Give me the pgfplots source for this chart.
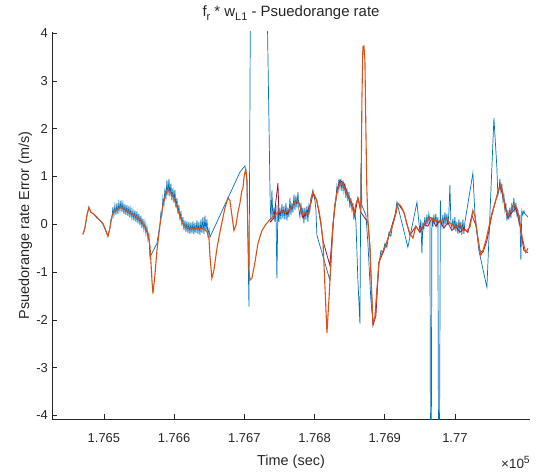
\documentclass[border=0pt]{standalone}
\usepackage{fontspec}
\setmainfont{Liberation Sans}
\usepackage{pgfplots}
\pgfplotsset{compat=1.18}
\definecolor{mblue}{rgb}{0,0.447,0.741}
\definecolor{morange}{rgb}{0.85,0.325,0.098}
\definecolor{mred}{rgb}{0.635,0.078,0.184}
\definecolor{axgray}{rgb}{0.15,0.15,0.15}
\begin{document}
\begin{tikzpicture}
\useasboundingbox (-52bp,-53.7bp) rectangle (487bp,419.3bp);
\begin{axis}[
 at={(0,0)}, anchor=south west,
 scale only axis, width=478bp, height=387.6bp,
 xmin=176426, xmax=177107, ymin=-4.08, ymax=4.03,
 axis x line*=bottom, axis y line*=left,
 axis line style={-, draw=axgray, line width=0.6bp},
 tick align=inside, major tick length=5bp,
 tick style={draw=axgray, line width=0.6bp},
 xtick pos=bottom, ytick pos=left,
 scaled x ticks=false,
 xtick={176500,176600,176700,176800,176900,177000},
 xticklabels={1.765,1.766,1.767,1.768,1.769,1.77},
 ytick={-4,-3,-2,-1,0,1,2,3,4},
 yticklabels={-4,-3,-2,-1,0,1,2,3,4},
 xticklabel style={font=\fontsize{13}{13}\selectfont, text=axgray, anchor=base, yshift=-23bp, inner sep=0pt},
 yticklabel style={font=\fontsize{13}{13}\selectfont, text=axgray, anchor=east, xshift=-4bp, inner sep=0pt},
 xlabel={Time (sec)},
 ylabel={Psuedorange rate Error (m/s)},
 xlabel style={font=\fontsize{14.5}{14.5}\selectfont, text=axgray, at={(axis description cs:0.5,-0.118)}, anchor=base, inner sep=0pt},
 ylabel style={font=\fontsize{14.5}{14.5}\selectfont, text=axgray, at={(axis description cs:-0.048,0.5)}, anchor=base, inner sep=0pt},
 title={f\raisebox{-0.45ex}{\fontsize{11}{11}\selectfont r} * w\raisebox{-0.45ex}{\fontsize{11}{11}\selectfont L1} - Psuedorange rate},
 title style={font=\fontsize{15}{15}\selectfont, text=black!85, at={(axis description cs:0.5,1.023)}, anchor=base, inner sep=0pt},
 clip=true,
]
% blue series
\addplot[mblue, line width=0.7bp] coordinates {
(176470.1,-0.21) (176472.9,-0.08) (176475.8,0.19) (176478.6,0.34) (176481.5,0.25)
(176485.8,0.21) (176490.0,0.13) (176494.3,0.08) (176498.6,0.00) (176502.8,-0.15)
(176505.7,-0.25) (176508.5,-0.08)
(176509.9,0.10) (176511.4,0.12) (176512.8,0.36) (176514.2,0.18) (176515.6,0.40)
(176517.1,0.20) (176518.5,0.44) (176519.9,0.22) (176521.3,0.46) (176522.8,0.28)
(176524.2,0.50) (176525.6,0.26) (176527.0,0.45) (176528.5,0.22) (176529.9,0.42)
(176531.3,0.20) (176532.7,0.40) (176534.2,0.17) (176535.6,0.38) (176537.0,0.14)
(176538.4,0.34) (176539.9,0.12) (176541.3,0.30) (176542.7,0.08) (176544.1,0.29)
(176545.6,0.05) (176547.0,0.27) (176548.4,0.02) (176549.8,0.22) (176551.3,-0.02)
(176552.7,0.18) (176554.1,-0.08) (176555.5,0.12) (176557.0,-0.12) (176558.4,0.05)
(176559.8,-0.20) (176561.2,-0.05) (176562.7,-0.32) (176564.1,-0.20) (176565.5,-0.69)
(176575.5,-0.40)
(176579.8,0.00) (176581.2,0.25) (176582.6,0.20) (176584.0,0.55) (176585.5,0.40)
(176586.9,0.75) (176588.3,0.52) (176589.7,0.92) (176591.2,0.60) (176592.6,0.95)
(176594.0,0.58) (176595.4,0.85) (176596.8,0.50) (176598.3,0.75) (176599.7,0.45)
(176601.1,0.72) (176602.5,0.35) (176604.0,0.55) (176605.4,0.22) (176606.8,0.40)
(176608.3,0.08) (176609.7,0.28) (176611.1,-0.03) (176612.5,0.15) (176614.0,-0.12)
(176615.4,0.08) (176616.8,-0.16) (176618.2,0.06) (176619.7,-0.18) (176621.1,0.05)
(176622.5,-0.20) (176623.9,0.04) (176625.4,-0.19) (176626.8,0.06) (176628.2,-0.21)
(176629.6,0.03) (176631.1,-0.18) (176632.5,0.08) (176633.9,-0.20) (176635.3,0.05)
(176636.8,-0.22) (176638.2,0.10) (176639.6,-0.18) (176641.0,0.15) (176642.5,-0.20)
(176643.9,0.18) (176645.3,-0.15) (176646.7,0.10) (176648.1,-0.22) (176649.6,-0.10)
(176651.0,-0.27)
(176693.7,1.09) (176698.0,1.17) (176700.9,1.22) (176703.7,0.92)
(176706.6,-1.72) (176710.1,9.0) (176727.9,9.0)
(176736.8,0.50) (176737.9,0.05) (176739.3,0.71) (176740.7,0.10) (176742.2,0.35)
(176743.6,0.05) (176745.0,0.40) (176746.4,-1.13) (176747.9,0.40) (176749.3,0.05)
(176750.7,0.35) (176752.1,0.10) (176753.6,0.42) (176755.0,0.12) (176756.4,0.38)
(176757.8,0.10) (176759.3,0.45) (176760.7,0.08) (176762.1,0.35) (176763.5,0.15)
(176765.0,0.55) (176766.4,0.20) (176767.8,0.45) (176769.2,0.25) (176770.7,0.62)
(176772.1,0.30) (176773.5,0.60) (176774.9,0.35) (176776.4,0.68) (176777.8,0.30)
(176779.2,0.15) (176780.6,0.45) (176782.1,0.20) (176783.5,0.35) (176784.9,0.02)
(176786.3,0.35) (176787.7,0.10) (176789.2,0.38) (176790.6,0.05) (176792.0,0.40)
(176793.4,0.30) (176794.9,0.55) (176796.3,0.62) (176797.7,0.72) (176799.1,0.60)
(176800.6,0.50) (176802.0,0.30) (176803.4,-0.23)
(176821.9,-1.17) (176824.8,-0.44)
(176827.6,0.19) (176829.1,0.45) (176830.5,0.50) (176831.9,0.80) (176833.3,0.65)
(176834.8,0.95) (176836.2,0.75) (176837.6,0.95) (176839.0,0.70) (176840.5,0.92)
(176841.9,0.68) (176843.3,0.85) (176844.7,0.55) (176846.1,0.75) (176847.6,0.48)
(176849.0,0.68) (176850.4,0.35) (176851.8,0.55) (176853.3,0.30) (176854.7,0.45)
(176856.1,0.10) (176857.5,0.25) (176859.0,0.04)
(176861.8,-1.17) (176864.7,-2.08) (176866.1,1.28)
(176867.5,0.40) (176873.2,0.19) (176876.1,-0.40) (176880.3,-1.59) (176883.2,-2.05)
(176886.0,-1.97) (176888.9,-1.38) (176891.7,-0.84) (176894.6,-0.55) (176897.4,-0.59)
(176900.3,-0.40) (176903.1,-0.48) (176906.0,-0.17) (176908.8,-0.25) (176911.7,0.04)
(176914.5,0.17) (176917.4,0.46) (176933.0,-0.48) (176945.9,0.46)
(176950.1,-0.17) (176951.5,0.10) (176953.0,-0.61) (176954.4,0.05) (176955.8,-0.10)
(176957.2,0.15) (176958.7,-0.05) (176960.1,0.20) (176961.5,0.00) (176962.9,0.22)
(176964.4,0.05) (176965.8,-8.0) (176967.2,0.15) (176968.6,-0.05) (176970.1,0.20)
(176971.5,0.00) (176972.9,0.22) (176974.3,-0.02) (176975.8,0.15) (176977.2,-8.0)
(176979.3,0.50) (176980.1,0.10) (176981.5,-0.05) (176982.9,0.20) (176984.3,-0.05)
(176985.8,0.25) (176987.2,0.00) (176988.6,0.22) (176990.0,-0.02) (176991.5,0.25)
(176992.9,0.82) (176994.3,0.05) (176995.7,-0.08) (176997.2,0.12) (176998.6,-0.12)
(177000.0,0.15) (177001.4,-0.15) (177002.8,0.05) (177004.3,-0.20) (177005.7,0.10)
(177007.1,-0.15) (177008.5,0.05) (177009.9,-0.22) (177011.4,0.10) (177012.8,-0.20)
(177014.2,0.04)
(177025.6,1.07) (177028.5,0.23) (177031.3,-0.17) (177034.2,-0.55) (177045.6,-1.32)
(177055.6,2.22) (177059.8,1.19)
(177061.2,0.60) (177062.7,0.71) (177064.1,0.95) (177065.5,0.70) (177066.9,0.85)
(177068.4,0.50) (177069.8,0.62) (177071.2,0.30) (177072.6,0.45) (177074.1,0.08)
(177075.5,0.30) (177076.9,0.10) (177078.3,0.35) (177079.8,0.13) (177081.2,0.45)
(177082.6,0.25) (177084.0,0.55) (177085.5,0.25) (177086.9,0.45) (177088.3,0.20)
(177089.7,0.30) (177091.2,0.05) (177092.6,0.20) (177094.0,-0.75) (177095.4,0.29)
(177096.8,0.20) (177098.3,0.28) (177099.7,0.22) (177101.1,0.20) (177102.5,0.18)
(177104.0,0.15)
};
% dark red series
\addplot[mred, line width=0.8bp] coordinates {
(176736.5,0.04) (176742.2,0.13) (176747.9,0.86) (176749.3,0.21) (176755.0,0.29)
(176760.7,0.21) (176766.4,0.34) (176772.1,0.46) (176777.8,0.46) (176783.5,0.13)
(176789.2,0.25) (176794.9,0.44) (176797.7,0.63) (176803.4,0.50) (176809.1,0.00)
(176812.0,-0.34) (176821.9,-0.86) (176826.2,-0.02) (176831.9,0.71) (176836.2,0.92)
(176841.9,0.86) (176847.6,0.61) (176853.3,0.44) (176857.5,0.21) (176861.8,0.55)
(176866.1,0.25) (176876.1,0.04) (176878.9,-0.44) (176883.2,-2.12) (176887.5,-1.91)
(176891.7,-0.80) (176898.9,-0.55) (176907.4,-0.17) (176916.0,0.25) (176918.8,0.44)
(176927.4,0.25) (176935.9,-0.23) (176944.4,-0.04) (176950.1,-0.17) (176955.8,0.00)
(176961.5,-0.04) (176967.2,0.13) (176972.9,-0.04) (176978.6,0.08) (176984.3,-0.08)
(176990.0,0.04) (176995.7,-0.13) (177001.4,-0.04) (177007.1,-0.17) (177012.8,-0.08)
(177018.5,-0.17) (177024.2,0.19) (177029.9,-0.02) (177035.6,-0.55) (177039.9,-0.59)
(177045.6,-0.34) (177052.7,0.19) (177059.8,0.59) (177064.1,0.82) (177069.8,0.50)
(177075.5,0.13) (177081.2,0.25) (177086.9,0.34) (177092.6,-0.02) (177098.3,-0.55)
(177104.0,-0.59)
};
% orange series
\addplot[morange, line width=1.1bp] coordinates {
(176470.1,-0.21) (176472.9,-0.08) (176475.8,0.19) (176478.6,0.36) (176481.5,0.25)
(176485.8,0.21) (176490.0,0.15) (176494.3,0.08) (176498.6,0.02) (176502.8,-0.13)
(176505.7,-0.25) (176508.5,-0.08) (176511.4,0.17) (176514.2,0.27) (176518.5,0.31)
(176524.2,0.36) (176531.3,0.29) (176538.5,0.23) (176545.6,0.17) (176552.7,0.08)
(176558.4,-0.04) (176562.7,-0.19) (176565.5,-0.44) (176567.0,-0.80) (176568.4,-1.17)
(176569.8,-1.45) (176572.6,-1.07) (176575.5,-0.55) (176579.8,-0.02) (176584.0,0.40)
(176588.3,0.65) (176591.2,0.73) (176595.4,0.65) (176599.7,0.55) (176604.0,0.36)
(176608.3,0.17) (176612.5,0.02) (176616.8,-0.06) (176622.5,-0.08) (176629.6,-0.10)
(176636.8,-0.08) (176642.5,-0.10) (176646.7,-0.15) (176649.6,-0.29) (176651.0,-0.65)
(176653.8,-1.13) (176656.7,-0.96) (176661.0,-0.50) (176665.2,-0.17) (176668.1,0.04)
(176672.4,0.34) (176676.6,0.55) (176679.5,0.50) (176682.3,0.19) (176685.2,-0.13)
(176688.0,-0.02) (176690.9,0.25) (176693.7,0.44) (176696.6,0.71) (176698.0,0.75)
(176699.4,0.96) (176700.9,1.09) (176702.3,1.13) (176703.7,0.96) (176705.1,-0.13)
(176706.6,-0.96) (176708.0,-1.17) (176710.8,-1.13) (176715.1,-0.80) (176719.4,-0.40)
(176725.1,-0.13) (176730.8,0.00) (176736.5,0.10) (176742.2,0.17) (176747.9,0.25)
(176753.6,0.27) (176759.3,0.25) (176765.0,0.31) (176770.7,0.44) (176774.9,0.50)
(176779.2,0.40) (176783.5,0.19) (176787.7,0.25) (176792.0,0.21) (176794.9,0.50)
(176797.7,0.67) (176802.0,0.55) (176806.3,0.29) (176809.1,0.04) (176812.0,-0.34)
(176814.8,-1.28) (176817.7,-2.27) (176820.5,-1.59) (176823.4,-0.80) (176826.2,-0.02)
(176829.1,0.40) (176831.9,0.67) (176836.2,0.86) (176840.5,0.84) (176844.7,0.69)
(176849.0,0.57) (176853.3,0.42) (176856.1,0.21) (176859.0,0.42) (176861.8,0.55)
(176864.7,0.40) (176866.1,0.25) (176867.5,2.60) (176868.9,3.71) (176870.4,3.73)
(176871.8,3.44) (176873.2,1.97) (176874.6,0.71) (176876.1,0.08) (176878.9,-0.48)
(176881.8,-1.59) (176883.2,-2.05) (176886.0,-1.97) (176888.9,-1.38) (176891.7,-0.80)
(176896.0,-0.61) (176901.7,-0.44) (176907.4,-0.17) (176911.7,0.00) (176916.0,0.23)
(176918.8,0.44) (176923.1,0.38) (176927.4,0.25) (176931.6,0.00) (176935.9,-0.19)
(176940.2,-0.29) (176944.4,-0.04) (176948.7,-0.13) (176953.0,-0.06) (176958.7,0.06)
(176964.4,0.15) (176968.7,0.08) (176974.4,0.08) (176978.6,0.04) (176982.9,0.08)
(176988.6,0.13) (176992.9,0.02) (176997.2,-0.02) (177002.8,-0.06) (177007.1,0.02)
(177011.4,-0.13) (177017.1,-0.13) (177021.4,-0.06) (177025.6,0.29) (177028.5,0.17)
(177031.3,-0.13) (177034.2,-0.44) (177037.0,-0.65) (177039.9,-0.55) (177044.2,-0.34)
(177048.4,-0.06) (177052.7,0.23) (177057.0,0.44) (177059.8,0.59) (177062.7,0.75)
(177065.5,0.82) (177068.4,0.65) (177071.2,0.34) (177075.5,0.17) (177079.8,0.29)
(177084.0,0.42) (177088.3,0.34) (177092.6,0.04) (177095.4,-0.23) (177098.3,-0.44)
(177101.1,-0.59) (177104.0,-0.50)
};
\end{axis}
\node[anchor=base east, inner sep=0pt, text=axgray, font=\fontsize{13.5}{13.5}\selectfont] at (478bp,-49.5bp) {×10\raisebox{0.75ex}{\fontsize{10.5}{10.5}\selectfont 5}};
\end{tikzpicture}
\end{document}
